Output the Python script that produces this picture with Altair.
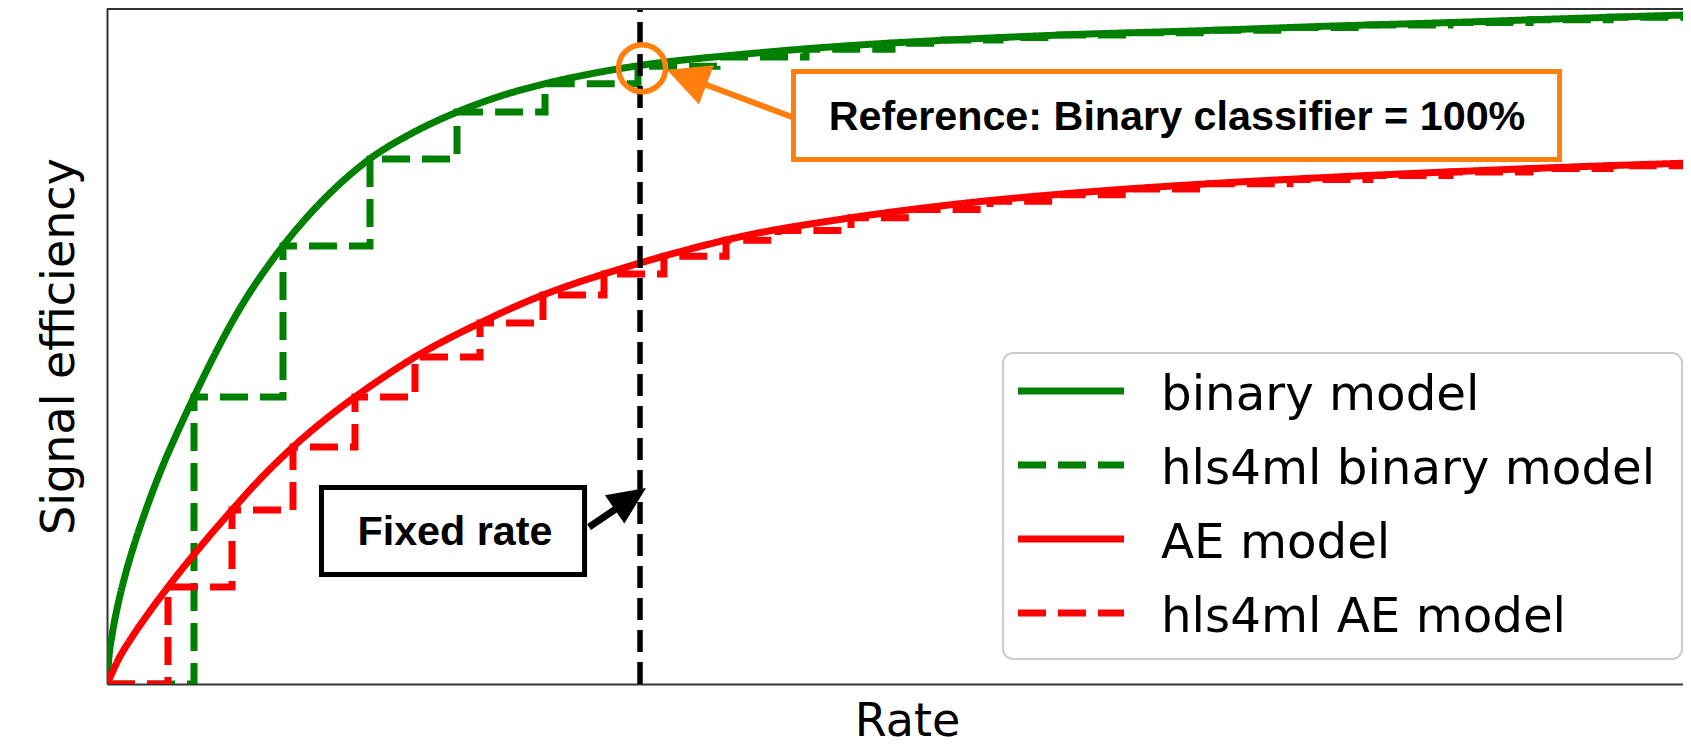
import altair as alt
import pandas as pd

# ---------------- data ----------------
# rate: % of the rate range, efficiency: fraction of the visible range
series_names = ["binary model", "hls4ml binary model", "AE model", "hls4ml AE model"]
series_colors = ["#008000", "#008000", "#ff0000", "#ff0000"]
series_dashes = [[1, 0], [28, 12], [1, 0], [28, 12]]

binary_rate = [0, 0.126, 0.316, 0.631, 1.136, 1.768, 2.525, 3.472, 4.419, 5.492,
               8.302, 11.111, 13.857, 16.604, 19.350, 22.096, 24.874, 27.652, 30.619, 33.649,
               39.899, 46.654, 53.409, 60.164, 69.823, 76.957, 84.154, 91.288, 100]
binary_eff = [0, 0.041, 0.072, 0.111, 0.160, 0.210, 0.262, 0.320, 0.371, 0.425,
              0.552, 0.648, 0.721, 0.777, 0.816, 0.846, 0.870, 0.888, 0.903, 0.915,
              0.931, 0.944, 0.953, 0.960, 0.967, 0.973, 0.978, 0.9836, 0.990]

hls_binary_rate = [0, 5.492, 11.111, 16.604, 22.096, 27.652, 33.523, 38.51, 44.13, 49.56,
                   52.84, 56.38, 60.16, 64.58, 69.63, 74.68, 79.73, 84.79, 89.84, 94.89,
                   100]
hls_binary_eff = [0, 0.4246, 0.648, 0.7766, 0.846, 0.888, 0.914, 0.9275, 0.939, 0.948,
                  0.9526, 0.9564, 0.960, 0.9635, 0.967, 0.971, 0.975, 0.9787, 0.9825, 0.9862,
                  0.990]

ae_rate = [0, 0.821, 1.641, 2.715, 3.851, 5.871, 7.891, 9.817, 11.742, 13.699,
           15.657, 17.551, 19.444, 21.465, 23.548, 25.505, 27.525, 29.419, 31.376, 33.649,
           36.806, 39.899, 46.654, 53.409, 62.689, 69.823, 76.957, 84.154, 91.288, 100]
ae_eff = [0, 0.0407, 0.0716, 0.1078, 0.1435, 0.2024, 0.2574, 0.3068, 0.3506, 0.3898,
          0.4246, 0.4553, 0.4837, 0.5099, 0.5340, 0.5556, 0.5754, 0.5916, 0.6065, 0.6228,
          0.6435, 0.6612, 0.6886, 0.7093, 0.7293, 0.7404, 0.7493, 0.757, 0.7638, 0.7708]

hls_ae_rate = [0, 3.851, 7.891, 11.742, 15.657, 19.444, 23.548, 27.525, 31.376, 35.16,
               39.08, 42.36, 46.97, 50.95, 55.74, 60.16, 64.58, 69.63, 74.68, 79.73,
               84.79, 89.84, 94.89, 100]
hls_ae_eff = [0, 0.1435, 0.2574, 0.3506, 0.4246, 0.4837, 0.5340, 0.5754, 0.6065, 0.6327,
              0.6565, 0.671, 0.6896, 0.7018, 0.7143, 0.7238, 0.7322, 0.740, 0.7464, 0.7522,
              0.7575, 0.7624, 0.7667, 0.7708]

fixed_rate = 33.65            # vertical dashed line
reference_point = (33.78, 0.911)
ref_text = "Reference: Binary classifier = 100%"
fixed_text = "Fixed rate"

# ---------------- layout ----------------
W, H = 1576, 676              # plot area (the figure is cropped at the right)
X_MAX = 99.495                # visible part of the rate range
ORANGE = "#ff7f0e"

xscale = alt.Scale(domain=[0, X_MAX], nice=False, zero=False)
yscale = alt.Scale(domain=[0, 1], nice=False, zero=False)
color_scale = alt.Scale(domain=series_names, range=series_colors)
dash_scale = alt.Scale(domain=series_names, range=series_dashes)

xaxis = alt.Axis(title="Rate", titleX=800, titlePadding=15)
yaxis = alt.Axis(title="Signal efficiency", titlePadding=24)


def X(field="rate"):
    return alt.X(f"{field}:Q", scale=xscale, axis=xaxis)


def Y(field="eff"):
    return alt.Y(f"{field}:Q", scale=yscale, axis=yaxis)


series_data = {
    "binary model": (binary_rate, binary_eff, "monotone"),
    "hls4ml binary model": (hls_binary_rate, hls_binary_eff, "step-after"),
    "AE model": (ae_rate, ae_eff, "monotone"),
    "hls4ml AE model": (hls_ae_rate, hls_ae_eff, "step-after"),
}

layers = []
for name in series_names:
    xs, ys, interp = series_data[name]
    df = pd.DataFrame({"rate": xs, "eff": ys, "series": name})
    layers.append(
        alt.Chart(df).mark_line(interpolate=interp, strokeWidth=7, clip=True, strokeCap="butt")
        .encode(
            x=X(), y=Y(),
            color=alt.Color("series:N", scale=color_scale, legend=None),
            strokeDash=alt.StrokeDash("series:N", scale=dash_scale, legend=None),
            order="rate:Q",
        )
    )

# top frame line
frame_top = alt.Chart(pd.DataFrame({"a": [0]})).mark_rule(color="#333333", strokeWidth=2).encode(
    x=alt.value(0), x2=alt.value(W), y=alt.value(1))

# fixed-rate dashed line
vline_df = pd.DataFrame({"rate": [fixed_rate], "eff": [0.0], "eff2": [0.997]})
vline = alt.Chart(vline_df).mark_rule(color="black", strokeWidth=5.5, strokeDash=[22, 10]).encode(
    x=X(), y=Y(), y2="eff2:Q")

# reference circle
circ_df = pd.DataFrame({"rate": [reference_point[0]], "eff": [reference_point[1]]})
circle = alt.Chart(circ_df).mark_point(shape="circle", size=2209, filled=False, stroke=ORANGE,
                                       strokeWidth=5.5, opacity=1).encode(x=X(), y=Y())

# annotation boxes
ref_box_df = pd.DataFrame({"rate": [43.34], "rate2": [91.70], "eff": [0.906], "eff2": [0.776]})
fixed_box_df = pd.DataFrame({"rate": [13.54], "rate2": [30.15], "eff": [0.2907], "eff2": [0.1620]})
ref_box = alt.Chart(ref_box_df).mark_rect(fill="white", stroke=ORANGE, strokeWidth=5).encode(
    x=X(), x2="rate2:Q", y=Y(), y2="eff2:Q")
fixed_box = alt.Chart(fixed_box_df).mark_rect(fill="white", stroke="black", strokeWidth=5).encode(
    x=X(), x2="rate2:Q", y=Y(), y2="eff2:Q")

text_df = pd.DataFrame({"rate": [67.55, 21.97], "eff": [0.8195, 0.2056], "label": [ref_text, fixed_text]})
texts = alt.Chart(text_df).mark_text(font="Liberation Sans", fontWeight="bold", fontSize=41.3,
                                     align="center", baseline="alphabetic", color="black").encode(
    x=X(), y=Y(), text="label:N")

# arrows
black_shaft_df = pd.DataFrame({"rate": [30.43], "eff": [0.2322], "rate2": [32.39], "eff2": [0.2633]})
orange_shaft_df = pd.DataFrame({"rate": [43.24], "eff": [0.8388], "rate2": [37.44], "eff2": [0.8898]})
black_shaft = alt.Chart(black_shaft_df).mark_rule(color="black", strokeWidth=7).encode(
    x=X(), x2="rate2:Q", y=Y(), y2="eff2:Q")
orange_shaft = alt.Chart(orange_shaft_df).mark_rule(color=ORANGE, strokeWidth=6).encode(
    x=X(), x2="rate2:Q", y=Y(), y2="eff2:Q")

black_head = alt.Chart(pd.DataFrame({"rate": [33.04], "eff": [0.2741]})).mark_point(
    shape="M0,-1L-0.9,1L0.9,1Z", size=1444, angle=55.6, filled=True, color="black",
    opacity=1, strokeWidth=0).encode(x=X(), y=Y())
orange_head = alt.Chart(pd.DataFrame({"rate": [36.60], "eff": [0.8973]})).mark_point(
    shape="M0,-1L-1,1L1,1Z", size=1764, angle=290.6, filled=True, color=ORANGE,
    opacity=1, strokeWidth=0).encode(x=X(), y=Y())

# ---------------- legend (drawn inside the plot, lower right) ----------------
leg_df = pd.DataFrame({"series": series_names, "row": [0, 1, 2, 3]})
leg_df["ly"] = 383 + leg_df["row"] * 74
leg_df["lty"] = leg_df["ly"] + 19
leg_df["sx0"] = 911
leg_df["sx1"] = 1017
leg_df["tx"] = 1054

leg_box = alt.Chart(pd.DataFrame({"x0": [896], "x1": [1575], "y0": [345], "y1": [651]})).mark_rect(
    fill="white", fillOpacity=0.8, stroke="#cccccc", strokeWidth=2, cornerRadius=10).encode(
    x=alt.X("x0:Q", scale=None), x2="x1:Q", y=alt.Y("y0:Q", scale=None), y2="y1:Q")
leg_sym = alt.Chart(leg_df).mark_rule(strokeWidth=7, strokeCap="butt").encode(
    x=alt.X("sx0:Q", scale=None), x2="sx1:Q", y=alt.Y("ly:Q", scale=None),
    color=alt.Color("series:N", scale=color_scale, legend=None),
    strokeDash=alt.StrokeDash("series:N", scale=dash_scale, legend=None))
leg_txt = alt.Chart(leg_df).mark_text(font="DejaVu Sans", fontSize=48.3, align="left",
                                      baseline="alphabetic", color="black").encode(
    x=alt.X("tx:Q", scale=None), y=alt.Y("lty:Q", scale=None), text="series:N")

chart = alt.layer(
    *layers, frame_top, vline, circle, ref_box, fixed_box, texts,
    black_shaft, orange_shaft, black_head, orange_head,
    leg_box, leg_sym, leg_txt,
).properties(
    width=W, height=H,
    autosize=alt.AutoSizeParams(type="none"),
    padding={"left": 99, "top": 0, "right": 0, "bottom": 54},
).configure_view(strokeWidth=0, strokeOpacity=0).configure(background="white").configure_axis(
    labels=False, ticks=False, grid=False, domain=True,
    domainColor="#333333", domainWidth=2,
    titleFont="DejaVu Sans", titleFontSize=46, titleFontWeight="normal", titleColor="black",
)

chart.save("out.html", embed_options={"renderer": "svg", "actions": False})
